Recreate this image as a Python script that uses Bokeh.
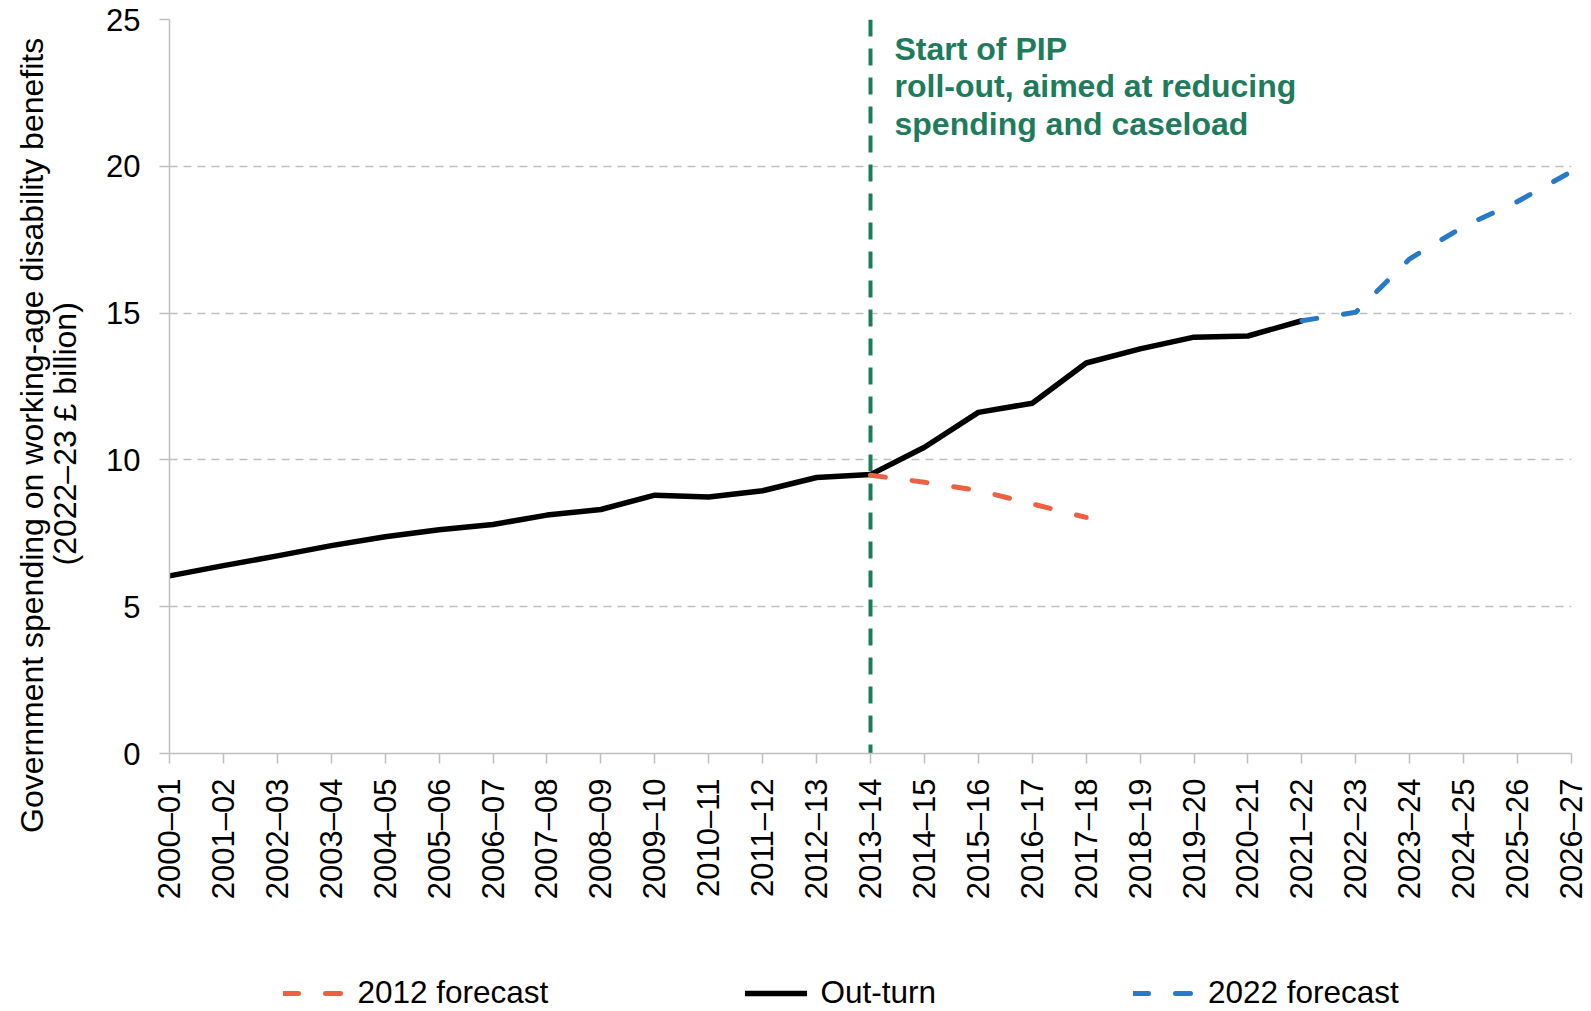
import math
from bokeh.plotting import figure
from bokeh.layouts import column
from bokeh.models import (Label, Legend, LegendItem, FixedTicker, Range1d, Title,
                          LinearAxis)
from bokeh.embed import file_html
from bokeh.resources import INLINE

# ---------------- data ----------------
years = ["2000–01", "2001–02", "2002–03", "2003–04", "2004–05", "2005–06",
         "2006–07", "2007–08", "2008–09", "2009–10", "2010–11", "2011–12",
         "2012–13", "2013–14", "2014–15", "2015–16", "2016–17", "2017–18",
         "2018–19", "2019–20", "2020–21", "2021–22", "2022–23", "2023–24",
         "2024–25", "2025–26", "2026–27"]

outturn_years = years[0:22]
outturn = [6.05, 6.40, 6.73, 7.08, 7.38, 7.62, 7.80, 8.12, 8.31, 8.80,
           8.74, 8.95, 9.40, 9.50, 10.43, 11.62, 11.93, 13.30, 13.78, 14.18,
           14.22, 14.74]

f2012_years = years[13:18]
f2012 = [9.48, 9.24, 8.96, 8.50, 8.04]

f2022_years = years[21:27]
f2022 = [14.74, 15.03, 16.85, 17.95, 18.80, 19.82]

pip_start = "2013–14"
y_ticks = [0, 5, 10, 15, 20, 25]

y_title_1 = "Government spending on working-age disability benefits"
y_title_2 = "(2022–23 £ billion)"
note_lines = ["Start of PIP", "roll-out, aimed at reducing", "spending and caseload"]
legend_labels = ["2012 forecast", "Out-turn", "2022 forecast"]

# ---------------- helpers ----------------
idx = {y: i for i, y in enumerate(years)}
def xs_of(labels):
    return [idx[l] for l in labels]

FONT = "Liberation Sans"
GREY = "#bfbfbf"
RED = "#EE6044"
BLUE = "#2979C9"
GREEN = "#1E7B5C"
NBSP = "\u00a0"

STYLE_OUT = dict(line_color="black", line_width=5.5, line_join="round", line_cap="round")
STYLE_12 = dict(line_color=RED, line_width=5, line_dash="15 27", line_cap="round", line_join="round")
STYLE_22 = dict(line_color=BLUE, line_width=5, line_dash="15 27", line_cap="round", line_join="round")

# ---------------- main chart ----------------
p = figure(width=1591, height=955, output_backend="svg", toolbar_location=None,
           x_range=Range1d(0, len(years) - 1), y_range=Range1d(0, 25),
           min_border_left=169, min_border_right=20, min_border_top=19,
           min_border_bottom=202)
p.outline_line_color = None
p.background_fill_color = "white"
p.border_fill_color = "white"

# x axis
p.xaxis.ticker = FixedTicker(ticks=list(range(len(years))))
p.xaxis.major_label_overrides = {i: y for i, y in enumerate(years)}
p.xaxis.major_label_orientation = math.pi / 2
p.xaxis.major_label_text_font = FONT
p.xaxis.major_label_text_font_size = "31px"
p.xaxis.major_label_text_color = "black"
p.xaxis.major_label_standoff = 15
p.xaxis.axis_line_color = GREY
p.xaxis.axis_line_width = 1.5
p.xaxis.major_tick_line_color = GREY
p.xaxis.major_tick_line_width = 1.5
p.xaxis.major_tick_out = 10
p.xaxis.major_tick_in = 0
p.xaxis.minor_tick_line_color = None

# y axis
p.yaxis.ticker = FixedTicker(ticks=y_ticks)
p.yaxis.major_label_text_font = FONT
p.yaxis.major_label_text_font_size = "31px"
p.yaxis.major_label_text_color = "black"
p.yaxis.major_label_standoff = 19
p.yaxis.axis_line_color = GREY
p.yaxis.axis_line_width = 1.5
p.yaxis.major_tick_line_color = GREY
p.yaxis.major_tick_line_width = 1.5
p.yaxis.major_tick_out = 10
p.yaxis.major_tick_in = 0
p.yaxis.minor_tick_line_color = None
p.yaxis.axis_label = " "
p.yaxis.axis_label_text_font_size = "1px"
p.yaxis.axis_label_standoff = 15

p.xgrid.grid_line_color = None
p.ygrid.ticker = FixedTicker(ticks=y_ticks[1:])
p.ygrid.grid_line_color = GREY
p.ygrid.grid_line_width = 1.5
p.ygrid.grid_line_dash = "8 6"

# PIP start vertical line
xp = idx[pip_start]
p.line([xp, xp], [p.y_range.end, p.y_range.start], line_color=GREEN,
       line_width=4, line_dash="17 12")

# series
p.line(xs_of(outturn_years), outturn, **STYLE_OUT)
p.line(xs_of(f2012_years), f2012, **STYLE_12)
p.line(xs_of(f2022_years), f2022, **STYLE_22)

# annotation text
for i, t in enumerate(note_lines):
    p.add_layout(Label(x=xp, y=705 - 37.8 * i, x_units="data", y_units="screen",
                       x_offset=24, text=t, text_font=FONT,
                       text_font_size="32px", text_font_style="bold",
                       text_color=GREEN, text_align="left",
                       text_baseline="alphabetic"))

# y-axis title: second line as a side title
p.add_layout(Title(text=y_title_2, align="left", offset=188, vertical_align="middle",
                   standoff=0, text_font=FONT, text_font_size="32px",
                   text_font_style="normal", text_color="black"), "left")
# first line as the label of a bare outer axis
outer = LinearAxis(ticker=FixedTicker(ticks=[]), axis_line_color=None,
                   major_tick_line_color=None, minor_tick_line_color=None,
                   major_tick_out=0, major_tick_in=0, minor_tick_out=0,
                   major_label_standoff=0, major_label_text_font_size="1px",
                   axis_label=y_title_1 + NBSP * 11, axis_label_standoff=-4,
                   axis_label_text_font=FONT, axis_label_text_font_size="32px",
                   axis_label_text_font_style="normal",
                   axis_label_text_color="black")
p.add_layout(outer, "left")

# ---------------- legend strip ----------------
lf = figure(width=1591, height=56, output_backend="svg", toolbar_location=None,
            x_axis_location=None, y_axis_location=None, min_border=0,
            x_range=Range1d(0, 1), y_range=Range1d(0, 1))
lf.outline_line_color = None
lf.grid.visible = False
lf.background_fill_color = "white"
lf.border_fill_color = "white"
# legend proxies carry the same series (they fall outside this strip's view)
proxies = [lf.line(xs_of(f2012_years), f2012, **STYLE_12),
           lf.line(xs_of(outturn_years), outturn, **STYLE_OUT),
           lf.line(xs_of(f2022_years), f2022, **STYLE_22)]

legend = Legend(items=[LegendItem(label=lab, renderers=[r])
                       for lab, r in zip(legend_labels, proxies)],
                orientation="horizontal", location=(113.5, 0),
                glyph_width=62, glyph_height=30, label_standoff=13,
                spacing=197, padding=0, margin=0,
                label_text_font=FONT, label_text_font_size="31.5px",
                label_text_color="black",
                border_line_color=None, background_fill_alpha=0)
lf.add_layout(legend)

layout = column(p, lf, spacing=0)
open("out.html", "w").write(file_html(layout, INLINE))
